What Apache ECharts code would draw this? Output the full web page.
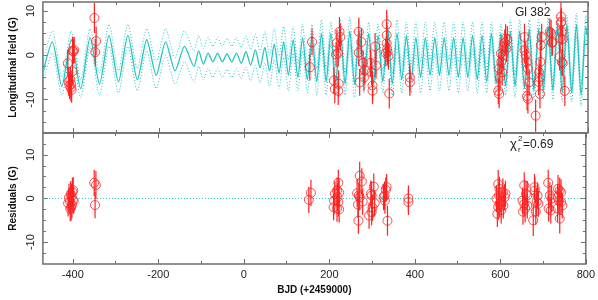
<!DOCTYPE html>
<html>
<head>
<meta charset="utf-8">
<script src="https://cdn.jsdelivr.net/npm/echarts@6.0.0/dist/echarts.min.js"></script>
<style>html,body{margin:0;padding:0;background:#fff}#c{width:598px;height:300px}</style>
</head>
<body>
<div id="c"></div>
<script>
// ---------- data ----------
const modelDays = [-470,-448,-426,-404,-382,-360,-338,-316,-294,-272,-250,-228,-206,-184,-162,-140,-118,
  -107,-96,-85,-74,-63,-52,-41,-30,-19,-8,
  3,14,25,36,47,58,69,80,91,102,
  113,124,135,146,157,168,179,190,201,212,
  223,234,245,256,267,278,289,300,311,322,
  333,344,355,366,377,388,399,410,421,432,
  443,454,465,476,487,498,509,520,531,542,
  553,564,575,586,597,608,619,630,641,652,
  663,674,685,696,707,718,729,740,751,762,
  773,784,795,800];
const modelField = [-4,3,-7,3.5,-7.5,4,-6.5,4.5,-6,4.5,-5.5,3.5,-4.5,3,-3.5,2,-2.5,
  1,-2,0.5,-1.5,0.5,-1.5,0.3,-1.5,0.5,-1.8,
  0.8,-2.2,1.2,-2.8,1.8,-3.5,2.5,-4,3,-4.5,
  3.5,-5,4,-5.5,4.5,-6,5,-6,5,-6.5,
  5.5,-6.5,5.5,-6.5,5.5,-6,5,-6.5,4.5,-6,
  6.5,-6.5,5,-5.5,4.5,-5.5,4,-5,4,-4.5,
  4,-4.5,4,-4.5,4,-5,4,-5,4.5,-5.5,
  4.5,-6,5,-6.5,5,-7,5.5,-7,5.5,-7.5,
  6,-8,6,-8,6.5,-8,7,-8.5,7,-8.5,
  7,-9,6.5,3];
const modelUpper = [-1.5,5.5,-5,5.5,-5.5,6,-4,7,-3.5,7,-3,6,-1.5,6,-0.5,5.5,1,
  4.5,1.5,4,2,4,2,3.8,2,4,1.7,
  4.3,1.3,4.7,0.7,5.3,0,6,-0.5,6.5,-1,
  6.5,-2,7,-2.5,7,-3,8,-3,7.5,-4,
  8,-4,8.5,-3.5,8,-3.5,7.5,-4,7,-3.5,
  9,-4,8,-2.5,7.5,-2.5,7.5,-1.5,7.5,-1,
  7.5,-1,7.5,-1,7.5,-1.5,7.5,-2,7.5,-2.5,
  7.5,-3.5,7.5,-4.5,7,-5,8,-4.5,8,-5.5,
  8,-6,8,-6,8.5,-6,9,-6.5,9,-6.5,
  9.5,-6.5,9,5.5];
const modelLower = [-6.5,0.5,-9,1.5,-9.5,2,-9,2,-8.5,2,-8,1,-7.5,0,-6.5,-1.5,-6,
  -2.5,-5.5,-3,-5,-3,-5,-3.2,-5,-3,-5.3,
  -2.7,-5.7,-2.3,-6.3,-1.7,-7,-1,-7.5,-0.5,-8,
  0.5,-8,1,-8.5,2,-9,2,-9,2.5,-9,
  3,-9,2.5,-9.5,3,-8.5,2.5,-9,2,-8.5,
  4,-9,2,-8.5,1.5,-8.5,0.5,-8.5,0.5,-8,
  0.5,-8,0.5,-8,0.5,-8.5,0.5,-8,1.5,-8.5,
  1.5,-8.5,2.5,-8.5,3,-9,3,-9.5,3,-9.5,
  4,-10,4,-10,4.5,-10,5,-10.5,5,-10.5,
  4.5,-11.5,4,0.5];

const obsDays = [-412,-410,-408,-406,-405,-404,-403,-401,-401,-399,-397,-350,-348,-346,
  152,157,
  208,210,213,215,218,218,219,221,223,
  266,266,268,272,276,278,280,
  293,296,298,298,304,306,
  329,331,331,331,332,333,335,337,
  385,385,
  591,593,593,595,597,598,600,602,606,608,610,612,
  652,652,655,657,658,660,660,663,
  678,685,686,687,688,689,690,692,
  711,714,716,717,
  734,735,737,737,738,739,739,741,741,746];
const obsField = [-1.8,-5.9,-6.8,-5.5,-7.3,-6.5,-7.8,-3.6,1.0,0.9,1.2,8.4,0.7,3.2,
  -2.7,3.0,
  -5.7,-7.6,0.2,2.8,0.5,-8.0,-6.4,5.3,4.1,
  5.3,0.6,-6.1,3.0,-1.7,-5.0,-3.4,
  -1.7,-3.8,-6.8,-8.0,2.0,-2.3,
  0.5,7.0,4.5,2.7,1.5,0.7,-0.2,-8.6,
  -5.0,-6.1,
  -8.0,-3.0,-8.7,-5.0,0.4,-1.5,-3.8,0.0,2.8,3.8,1.5,3.6,
  4.1,1.1,0.0,-1.5,-9.2,-3.0,-9.8,-6.1,
  -13.6,-6.0,-3.8,-5.0,-8.7,-1.5,2.3,4.1,
  5.3,5.0,2.8,3.0,
  -0.4,3.8,8.7,7.3,7.6,5.3,-1.5,3.6,-1.8,-8.0];
const obsErr = [3.0,3.2,3.0,2.8,3.0,3.1,2.9,3.0,3.2,2.8,3.0,3.4,3.0,3.2,
  3.0,3.0,
  3.0,3.2,2.8,3.0,3.0,3.2,3.0,3.3,3.0,
  3.2,3.0,3.0,3.0,2.8,3.0,3.0,
  3.0,3.0,3.2,3.0,3.0,3.0,
  3.0,3.2,3.0,2.8,3.0,3.0,3.0,3.4,
  3.0,3.0,
  3.0,3.0,3.2,3.0,3.0,2.8,3.0,3.0,3.0,3.2,3.0,3.0,
  3.0,3.0,3.0,3.0,3.2,3.0,3.3,3.0,
  3.6,3.0,3.0,3.0,3.2,3.0,3.0,3.0,
  3.0,3.0,3.0,3.0,
  3.0,3.0,3.2,3.0,3.0,3.0,3.0,3.0,3.0,3.4];

const resDays = [-411,-409,-407,-406,-405,-404,-403,-402,-401,-400,-399,-398,-350,-348,-346,
  152,157,
  210,211,213,218,218,219,221,221,223,223,
  265,267,268,269,271,271,276,278,
  293,297,299,299,301,304,306,
  327,329,330,332,334,336,
  385,385,
  591,593,595,595,597,598,598,602,602,606,607,610,612,
  652,653,656,656,658,660,663,663,
  677,680,681,683,685,687,689,
  712,713,716,718,720,
  734,734,735,737,739,739,742,742,745];
const resField = [-1.1,0.2,-0.6,-2.4,1.0,-2.0,0.5,-1.5,1.5,-0.3,1.9,-0.5,3.6,-1.5,3.1,
  -0.3,1.3,
  -2.0,-0.5,1.1,1.8,-2.3,0.3,3.6,-0.8,1.4,-2.5,
  1.2,-1.4,-5.1,0.7,5.2,0.3,3.9,-0.7,
  -3.9,1.1,0.7,-3.1,-2.1,2.7,-1.1,
  0.3,0.7,-0.5,2.0,2.6,-5.1,
  0.0,-0.8,
  0.0,-3.5,3.3,-2.0,0.7,2.2,-1.2,-0.5,-2.7,1.4,-1.6,0.3,1.1,
  -0.5,-3.0,3.0,-1.2,-2.3,1.1,0.7,-1.6,
  -5.0,2.6,1.8,-3.0,-0.8,0.7,-1.2,
  3.6,-2.3,0.7,-2.7,0.0,
  0.3,-2.3,2.2,-0.5,1.8,-4.6,1.4,-0.8,-1.6];
const resErr = [3.0,3.2,3.0,2.8,3.0,3.1,2.9,3.0,3.2,2.8,3.0,3.0,3.0,3.0,3.2,
  3.0,3.0,
  3.0,3.2,2.8,3.0,3.0,3.2,3.0,3.3,3.0,3.0,
  3.2,3.0,3.0,3.0,3.2,3.0,3.0,3.0,
  3.0,3.0,3.2,3.0,3.0,3.0,3.0,
  3.0,3.2,3.0,2.8,3.0,3.4,
  3.0,3.0,
  3.0,3.0,3.2,3.0,3.0,2.8,3.0,3.0,3.0,3.2,3.0,3.0,3.0,
  3.0,3.0,3.0,3.0,3.2,3.0,3.3,3.0,
  3.6,3.0,3.0,3.0,3.2,3.0,3.0,
  3.0,3.0,3.0,3.0,3.0,
  3.0,3.0,3.2,3.0,3.0,3.4,3.0,3.0,3.0];

const xMajorTicks = [-400,-200,0,200,400,600,800];
const xMinorTicks = [-300,-100,100,300,500,700];
const xTickLabels = [-400,-200,0,200,400,600,800];
const topYMajor = [-10,0,10];
const topYMinor = [-15,-12.5,-7.5,-5,-2.5,2.5,5,7.5];
const botYMajor = [-10,0,10];
const botYMinor = [-12.5,-7.5,-5,-2.5,2.5,5,7.5,12.5];
const yTickLabels = [-10,0,10];

// ---------- chart ----------
const FONT = '"Liberation Sans", Arial, Helvetica, sans-serif';
const FRAME = '#6e6e6e';
const CYAN = '#22c4c4';
const RED = '#ff2020';
const X0 = -470, X1 = 800;

function xAx(grid, pos, ticks, len, labels, extra) {
  return Object.assign({
    type: 'value', gridIndex: grid, position: pos, min: X0, max: X1,
    axisLine: {show: false, onZero: false}, splitLine: {show: false},
    axisTick: {show: true, inside: true, length: len, customValues: ticks, lineStyle: {color: FRAME, width: 1}},
    axisLabel: labels ? {show: true, customValues: labels, margin: 5, fontSize: 11, color: '#222', fontFamily: FONT} : {show: false}
  }, extra || {});
}
function yAx(grid, pos, mn, mx, ticks, len, labels, extra) {
  return Object.assign({
    type: 'value', gridIndex: grid, position: pos, min: mn, max: mx,
    axisLine: {show: false, onZero: false}, splitLine: {show: false},
    axisTick: {show: true, inside: true, length: len, customValues: ticks, lineStyle: {color: FRAME, width: 1}},
    axisLabel: labels ? {show: true, customValues: labels, rotate: 90, margin: 6, fontSize: 11, color: '#222', fontFamily: FONT} : {show: false}
  }, extra || {});
}

function errRender(params, api) {
  const x = api.value(0), y = api.value(1), e = api.value(2);
  const a = api.coord([x, y - e]), b = api.coord([x, y + e]);
  return {type: 'line', shape: {x1: a[0], y1: a[1], x2: b[0], y2: b[1]},
          style: {stroke: RED, lineWidth: 1.2}};
}

const modelMid = modelDays.map((d, i) => [d, modelField[i]]);
const modelUp = modelDays.map((d, i) => [d, modelUpper[i]]);
const modelLo = modelDays.map((d, i) => [d, modelLower[i]]);
const obs = obsDays.map((d, i) => [d, obsField[i], obsErr[i]]);
const res = resDays.map((d, i) => [d, resField[i], resErr[i]]);

const nameStyle = {fontWeight: 'bold', fontSize: 10, color: '#111', fontFamily: FONT};

const option = {
  animation: false,
  backgroundColor: '#fff',
  grid: [
    {left: 30, top: 2, width: 558, height: 131, show: true, borderColor: FRAME, borderWidth: 1.5, backgroundColor: 'transparent'},
    {left: 30, top: 133, width: 558, height: 131, show: true, borderColor: FRAME, borderWidth: 1.5, backgroundColor: 'transparent'}
  ],
  xAxis: [
    xAx(0, 'bottom', xMajorTicks, 5, null),
    xAx(0, 'bottom', xMinorTicks, 3, null),
    xAx(0, 'top', xMajorTicks, 5, null),
    xAx(0, 'top', xMinorTicks, 3, null),
    xAx(1, 'bottom', xMajorTicks, 5, xTickLabels, {name: 'BJD (+2459000)', nameLocation: 'middle', nameGap: 21, nameTextStyle: nameStyle}),
    xAx(1, 'bottom', xMinorTicks, 3, null),
    xAx(1, 'top', xMajorTicks, 5, null),
    xAx(1, 'top', xMinorTicks, 3, null)
  ],
  yAxis: [
    yAx(0, 'left', -17.5, 12, topYMajor, 5, yTickLabels, {name: 'Longitudinal field (G)', nameLocation: 'middle', nameGap: 17, nameRotate: 90, nameTextStyle: nameStyle}),
    yAx(0, 'left', -17.5, 12, topYMinor, 3, null),
    yAx(0, 'right', -17.5, 12, topYMajor, 5, null),
    yAx(0, 'right', -17.5, 12, topYMinor, 3, null),
    yAx(1, 'left', -15, 15, botYMajor, 5, yTickLabels, {name: 'Residuals (G)', nameLocation: 'middle', nameGap: 17, nameRotate: 90, nameTextStyle: nameStyle}),
    yAx(1, 'left', -15, 15, botYMinor, 3, null),
    yAx(1, 'right', -15, 15, botYMajor, 5, null),
    yAx(1, 'right', -15, 15, botYMinor, 3, null)
  ],
  series: [
    {type: 'line', xAxisIndex: 0, yAxisIndex: 0, data: modelUp, symbol: 'none', silent: true, z: 1, smooth: 0.25,
     lineStyle: {color: CYAN, width: 1, type: [1, 2]}},
    {type: 'line', xAxisIndex: 0, yAxisIndex: 0, data: modelLo, symbol: 'none', silent: true, z: 1, smooth: 0.25,
     lineStyle: {color: CYAN, width: 1, type: [1, 2]}},
    {type: 'line', xAxisIndex: 0, yAxisIndex: 0, data: modelMid, symbol: 'none', silent: true, z: 2, smooth: 0.25,
     lineStyle: {color: CYAN, width: 1.3}},
    {type: 'custom', xAxisIndex: 0, yAxisIndex: 0, data: obs, renderItem: errRender, z: 3, clip: true},
    {type: 'scatter', xAxisIndex: 0, yAxisIndex: 0, data: obs.map(p => [p[0], p[1]]), symbol: 'circle', symbolSize: 9, z: 4,
     itemStyle: {color: 'rgba(0,0,0,0)', borderColor: RED, borderWidth: 1}},
    {type: 'custom', xAxisIndex: 4, yAxisIndex: 4, data: res, renderItem: errRender, z: 3, clip: true},
    {type: 'scatter', xAxisIndex: 4, yAxisIndex: 4, data: res.map(p => [p[0], p[1]]), symbol: 'circle', symbolSize: 9, z: 4,
     itemStyle: {color: 'rgba(0,0,0,0)', borderColor: RED, borderWidth: 1},
     markLine: {silent: true, symbol: 'none', label: {show: false}, z: 1,
       lineStyle: {color: CYAN, width: 1, type: [1, 2]}, data: [{yAxis: 0}]}}
  ],
  graphic: [
    {type: 'text', left: 515, top: 7, style: {text: 'Gl 382', font: '12px ' + FONT, fill: '#222'}},
    {type: 'text', left: 510, top: 138, style: {text: 'χ', font: '13px ' + FONT, fill: '#222'}},
    {type: 'text', left: 518, top: 135, style: {text: '2', font: '8px ' + FONT, fill: '#222'}},
    {type: 'text', left: 518, top: 146, style: {text: 'r', font: '8px ' + FONT, fill: '#222'}},
    {type: 'text', left: 523, top: 139, style: {text: '=0.69', font: '12px ' + FONT, fill: '#222'}}
  ]
};

const chart = echarts.init(document.getElementById('c'), null, {renderer: 'canvas'});
chart.setOption(option);
</script>
</body>
</html>
